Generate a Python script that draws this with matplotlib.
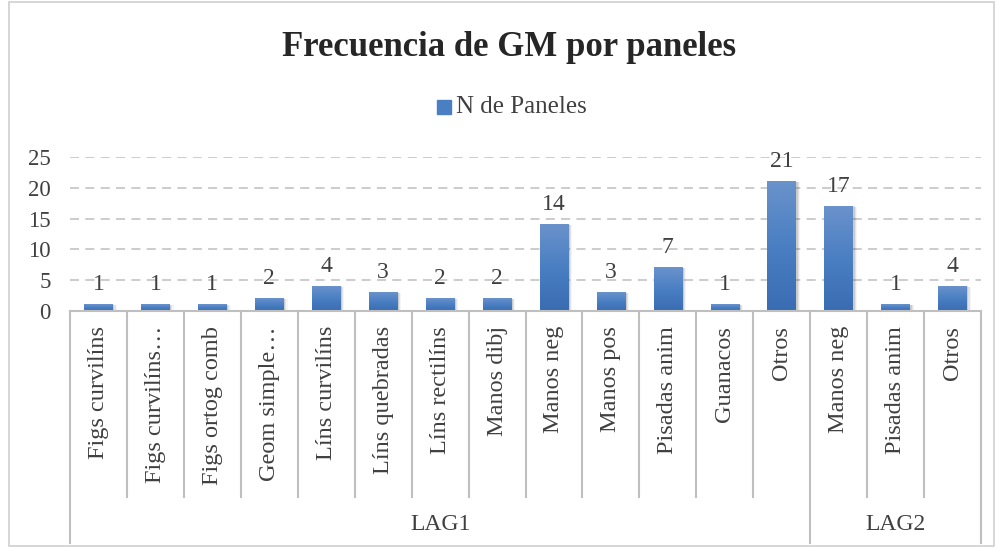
import matplotlib
matplotlib.use("Agg")
import matplotlib.pyplot as plt
import numpy as np
from matplotlib.transforms import blended_transform_factory
from matplotlib.patches import Rectangle
from matplotlib.lines import Line2D
from matplotlib.colors import LinearSegmentedColormap

categories = ["Figs curvilíns", "Figs curvilíns…", "Figs ortog comb", "Geom simple…",
              "Líns curvilíns", "Líns quebradas", "Líns rectilíns", "Manos dibj",
              "Manos neg", "Manos pos", "Pisadas anim", "Guanacos", "Otros",
              "Manos neg", "Pisadas anim", "Otros"]
values = [1, 1, 1, 2, 4, 3, 2, 2, 14, 3, 7, 1, 21, 17, 1, 4]
groups = ["LAG1", "LAG2"]
group_sizes = [13, 3]
series_name = "N de Paneles"
title = "Frecuencia de GM por paneles"
yticks = [0, 5, 10, 15, 20, 25]

FONT = "Liberation Serif"
TXT = "#404040"
GRID = "#c8c8c8"

W, H = 998, 548
fig = plt.figure(figsize=(W / 100, H / 100), dpi=100)

def fy(py):
    return (H - py) / H

def fx(px):
    return px / W

ax = fig.add_axes([fx(70), fy(311), fx(981) - fx(70), fy(157) - fy(311)])
ax.set_xlim(-0.5, len(values) - 0.5)
ax.set_ylim(0, 25)
for s in ax.spines.values():
    s.set_visible(False)
ax.set_xticks([])
ax.set_yticks(yticks)
ax.tick_params(axis="y", length=0, pad=14, labelsize=16.5, labelcolor=TXT)
for lab in ax.get_yticklabels():
    lab.set_fontfamily(FONT)
for t in yticks[1:]:
    ax.axhline(t, color=GRID, lw=1.3, ls=(0, (5, 3.5)), zorder=0)
ax.axhline(0, color="#bfbfbf", lw=1.5, zorder=3, clip_on=False)

x = np.arange(len(values))
bw = 0.5
cmap = LinearSegmentedColormap.from_list("g", ["#3a6cb2", "#4a7fc3", "#6a92cb"])
grad = np.linspace(0, 1, 100).reshape(-1, 1)
bars = ax.bar(x, values, width=bw, color="none", zorder=2)
for b in bars:
    x0, w, h = b.get_x(), b.get_width(), b.get_height()
    for k, a in enumerate([0.10, 0.07, 0.04]):
        ax.add_patch(Rectangle((x0 + 0.03 + 0.02 * k, 0), w, h - 0.05 * k,
                               color="#000000", alpha=a, lw=0, zorder=1))
    ax.imshow(grad, extent=(x0, x0 + w, 0, h), origin="lower", aspect="auto",
              cmap=cmap, zorder=2)
    ax.annotate(f"{int(h)}", (x0 + w / 2, h), xytext=(0, 7), textcoords="offset points",
                ha="center", va="bottom", fontsize=17, color=TXT, fontfamily=FONT)
ax.set_xlim(-0.5, len(values) - 0.5)
ax.set_ylim(0, 25)

tr = blended_transform_factory(ax.transData, fig.transFigure)
edges = np.arange(len(values) + 1) - 0.5
group_edges = np.concatenate([[0], np.cumsum(group_sizes)]) - 0.5
for e in edges:
    bottom = fy(543) if np.any(np.isclose(e, group_edges)) else fy(497)
    fig.add_artist(Line2D([e, e], [fy(311), bottom], transform=tr, color="#bfbfbf", lw=1.5))
for xi, c in zip(x, categories):
    fig.text(xi, fy(326), c, transform=tr, rotation=90, ha="center", va="top",
             fontsize=17.5, color=TXT, fontfamily=FONT)
for g, a, b in zip(groups, group_edges[:-1], group_edges[1:]):
    fig.text((a + b) / 2, fy(525), g, transform=tr, ha="center", va="center",
             fontsize=17, color=TXT, fontfamily=FONT)

fig.text(fx(509), fy(47), title, ha="center", va="center", fontsize=25, fontweight="bold",
         color="#262626", fontfamily=FONT)
fig.patches.append(Rectangle((fx(437), fy(114)), fx(451) - fx(437), fy(100) - fy(114),
                             transform=fig.transFigure, color="#4a7fc3", figure=fig))
fig.text(fx(456), fy(107), series_name, ha="left", va="center", fontsize=18,
         color=TXT, fontfamily=FONT)

fig.patches.append(Rectangle((fx(9), fy(546)), fx(994) - fx(9), fy(2) - fy(546),
                             transform=fig.transFigure, fill=False, ec="#d0d0d0",
                             lw=1.2, figure=fig))

fig.savefig("out.png", dpi=100, facecolor="white")
